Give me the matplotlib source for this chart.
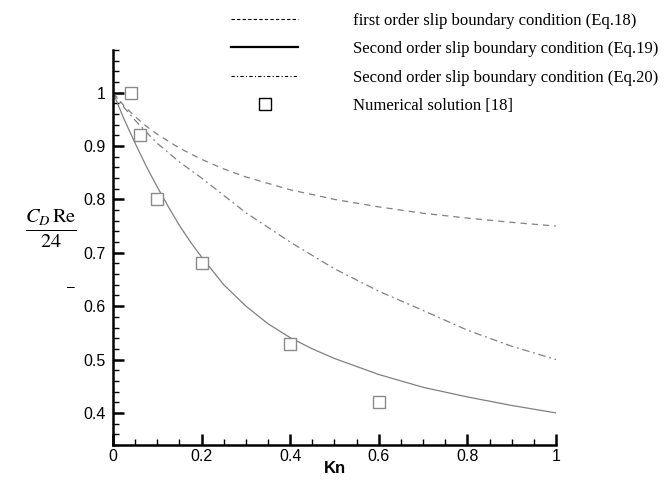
import matplotlib
matplotlib.use("Agg")
import matplotlib.pyplot as plt
import matplotlib.ticker as mtick
from matplotlib.lines import Line2D


# Valeurs
KN_EQ18   = [0, 0.025, 0.05, 0.075, 0.1, 0.15, 0.2, 0.25, 0.3, 0.4, 0.5, 0.6, 0.7, 0.8, 0.9, 1.0]
CD_EQ18   = [1.0, 0.975, 0.955, 0.937, 0.922, 0.896, 0.875, 0.857, 0.842, 0.818, 0.800, 0.786, 0.774, 0.765, 0.757, 0.750]

KN_EQ19   = [0, 0.025, 0.05, 0.075, 0.1, 0.125, 0.15, 0.175, 0.2, 0.25, 0.3, 0.35, 0.4, 0.45, 0.5, 0.6, 0.7, 0.8, 0.9, 1.0]
CD_EQ19   = [1.0, 0.950, 0.905, 0.862, 0.823, 0.786, 0.751, 0.720, 0.692, 0.640, 0.600, 0.567, 0.541, 0.520, 0.502, 0.472, 0.448, 0.430, 0.414, 0.400]

KN_EQ20   = [0, 0.025, 0.05, 0.075, 0.1, 0.15, 0.2, 0.3, 0.4, 0.5, 0.6, 0.7, 0.8, 0.9, 1.0]
CD_EQ20   = [1.0, 0.972, 0.948, 0.926, 0.905, 0.870, 0.840, 0.775, 0.720, 0.670, 0.628, 0.592, 0.555, 0.525, 0.500]

KN_NUM    = [0.04, 0.06, 0.1, 0.2, 0.4, 0.6]
CD_NUM    = [1.0, 0.92, 0.80, 0.68, 0.53, 0.42]

LABELS = [
  "first order slip boundary condition (Eq.18)",
  "Second order slip boundary condition (Eq.19)",
  "Second order slip boundary condition (Eq.20)",
  "Numerical solution [18]",
]

X_TICKS = [0, 0.2, 0.4, 0.6, 0.8, 1.0]
Y_TICKS = [0.4, 0.5, 0.6, 0.7, 0.8, 0.9, 1.0]

LINE_GREY = "#808080"

plt.rcParams["mathtext.fontset"] = "stix"
plt.rcParams["font.family"] = "Liberation Sans"

fig = plt.figure(figsize=(6.65, 4.8), dpi=100)
ax  = fig.add_axes([0.170, 0.073, 0.666, 0.823])

ax.plot(KN_EQ18, CD_EQ18, color=LINE_GREY, linewidth=0.9, linestyle=(0, (5, 4)))
ax.plot(KN_EQ19, CD_EQ19, color=LINE_GREY, linewidth=0.9, linestyle="-")
ax.plot(KN_EQ20, CD_EQ20, color=LINE_GREY, linewidth=0.9, linestyle=(0, (6, 3, 1.5, 3)))
ax.plot(KN_NUM, CD_NUM, linestyle="none", marker="s", markersize=8,
        markerfacecolor="white", markeredgecolor="#8a8a8a", markeredgewidth=1.0)

ax.set_xlim(0, 1)
ax.set_ylim(0.34, 1.08)

ax.spines["top"].set_visible(False)
ax.spines["right"].set_visible(False)
ax.spines["left"].set_linewidth(1.8)
ax.spines["bottom"].set_linewidth(1.8)

ax.set_xticks(X_TICKS)
ax.set_yticks(Y_TICKS)
ax.xaxis.set_minor_locator(mtick.MultipleLocator(0.05))
ax.yaxis.set_minor_locator(mtick.MultipleLocator(0.02))
ax.xaxis.set_major_formatter(mtick.FormatStrFormatter("%g"))
ax.yaxis.set_major_formatter(mtick.FormatStrFormatter("%g"))

ax.tick_params(which="major", direction="in", length=8, width=1.8, labelsize=11.5, pad=3)
ax.tick_params(axis="y", which="major", pad=5)
ax.tick_params(which="minor", direction="in", length=4.5, width=1.0)

ax.set_xlabel("Kn", fontsize=12, fontweight="bold", labelpad=-2)

fig.text(0.076, 0.523, r"$\frac{C_D\,\mathrm{Re}}{24}$", fontsize=21,
         ha="center", va="center")
fig.text(0.106, 0.402, "–", fontsize=10, ha="center", va="center")

# Légende sans cadre en haut de la figure
handles = [
  Line2D([], [], color="black", linewidth=0.8, linestyle=(0, (3, 2))),
  Line2D([], [], color="black", linewidth=1.6, linestyle="-"),
  Line2D([], [], color="black", linewidth=0.8, linestyle=(0, (3, 2, 1, 2))),
  Line2D([], [], color="black", linestyle="none", marker="s", markersize=8,
         markerfacecolor="white", markeredgewidth=1.0),
]
leg = fig.legend(handles, LABELS, loc="upper left", bbox_to_anchor=(0.338, 0.987),
                 frameon=False, prop={"family": "Liberation Serif", "size": 12.0},
                 handlelength=4.0, handletextpad=3.3, labelspacing=0.74,
                 borderaxespad=0)

fig.savefig("out.png", dpi=100)
